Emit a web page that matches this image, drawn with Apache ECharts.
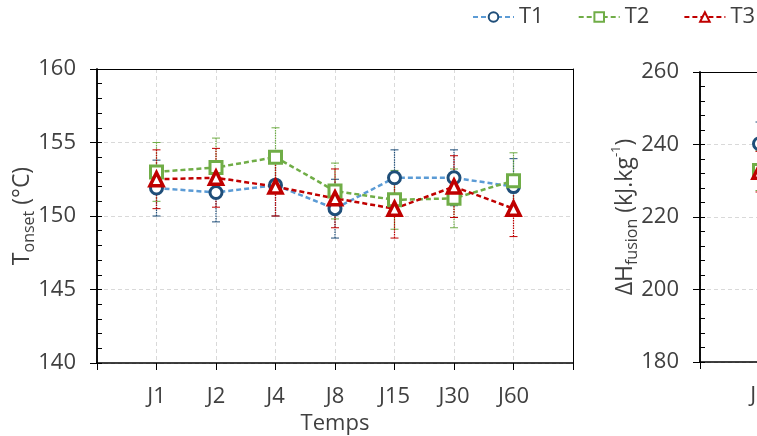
<!DOCTYPE html>
<html>
<head>
<meta charset="utf-8">
<script src="https://cdn.jsdelivr.net/npm/echarts@6/dist/echarts.min.js"></script>
<style>
  html, body { margin: 0; padding: 0; background: #fff; }
  #chart { width: 757px; height: 436px; }
</style>
</head>
<body>
<div id="chart"></div>
<script>
// données
var temps = ['J1', 'J2', 'J4', 'J8', 'J15', 'J30', 'J60'];
var series_names = ['T1', 'T2', 'T3'];

// T onset (°C)
var onset_T1 = [151.9, 151.6, 152.1, 150.5, 152.6, 152.6, 152.0];
var onset_T2 = [153.0, 153.3, 154.0, 151.7, 151.1, 151.2, 152.4];
var onset_T3 = [152.5, 152.6, 152.0, 151.2, 150.5, 152.0, 150.5];
var onset_err_T1 = [1.9, 2.0, 2.1, 2.0, 1.9, 1.9, 1.9];
var onset_err_T2 = [2.0, 2.0, 2.0, 1.9, 2.0, 2.0, 1.9];
var onset_err_T3 = [2.0, 2.0, 2.0, 2.0, 2.0, 2.1, 1.9];

// delta H fusion (kJ/kg) : seul J1 est visible sur l'image
var dh_T1 = [240.2];
var dh_T2 = [232.8];
var dh_T3 = [232.5];
var dh_err_T1 = [6.0];
var dh_err_T2 = [5.5];
var dh_err_T3 = [5.6];

var FONT = 'Open Sans';
var TXT = '#404040';
var lineColors = ['#5B9BD5', '#70AD47', '#C00000'];
var markColors = ['#1F4E79', '#70AD47', '#C00000'];
var symbols = ['circle', 'rect', 'triangle'];

var myChart = echarts.init(document.getElementById('chart'));

function pts(arr) {
    return arr.map(function (v, i) { return [i + 1, v]; });
}
function errPts(arr, err) {
    return arr.map(function (v, i) { return [i + 1, v - err[i], v + err[i]]; });
}

function renderErr(color) {
    return function (params, api) {
        var x = api.value(0);
        var lo = api.coord([x, api.value(1)]);
        var hi = api.coord([x, api.value(2)]);
        var w = 4;
        var st = { stroke: color, lineWidth: 1.2, lineDash: [1.5, 1] };
        var cap = { stroke: color, lineWidth: 1 };
        return {
            type: 'group',
            children: [
                { type: 'line', shape: { x1: lo[0], y1: lo[1], x2: hi[0], y2: hi[1] }, style: st },
                { type: 'line', shape: { x1: lo[0] - w, y1: lo[1], x2: lo[0] + w, y2: lo[1] }, style: cap },
                { type: 'line', shape: { x1: hi[0] - w, y1: hi[1], x2: hi[0] + w, y2: hi[1] }, style: cap }
            ]
        };
    };
}

function xAxisCfg(gridIndex) {
    return {
        type: 'value', gridIndex: gridIndex,
        min: 0, max: 8, interval: 1,
        name: 'Temps', nameLocation: 'middle', nameGap: 50,
        nameTextStyle: { fontFamily: FONT, fontSize: 22, color: TXT },
        axisLine: { lineStyle: { color: '#000', width: 1.5 } },
        axisTick: { show: true, length: 7, lineStyle: { color: '#000', width: 1 } },
        axisLabel: {
            margin: 23, fontFamily: FONT, fontSize: 22, color: TXT,
            formatter: function (v) { return temps[v - 1] || ''; }
        },
        splitLine: { show: true, lineStyle: { color: '#d9d9d9', type: [4, 3] } }
    };
}

// ligne du cadre (haut ou droite)
function frameCfg(gridIndex, pos, min, max) {
    return {
        type: 'value', gridIndex: gridIndex, position: pos,
        min: min, max: max,
        axisLine: { show: true, onZero: false, lineStyle: { color: '#000', width: 1 } },
        axisTick: { show: false }, axisLabel: { show: false }, splitLine: { show: false }
    };
}

function yAxisCfg(gridIndex, min, max, step, name, gap) {
    return {
        type: 'value', gridIndex: gridIndex,
        min: min, max: max, interval: step,
        name: name, nameLocation: 'middle', nameGap: gap, nameRotate: 90,
        nameMoveOverlap: false,
        nameTextStyle: {
            rich: {
                a: { fontFamily: FONT, fontSize: 23, color: TXT, lineHeight: 30 },
                b: { fontFamily: FONT, fontSize: 16, color: TXT, lineHeight: 22, verticalAlign: 'bottom' },
                c: { fontFamily: FONT, fontSize: 13, color: TXT, lineHeight: 16, verticalAlign: 'top' }
            }
        },
        axisLine: { lineStyle: { color: '#000', width: 1.5 } },
        axisTick: { length: 7, lineStyle: { color: '#000', width: 1 } },
        axisLabel: { margin: 21, fontFamily: FONT, fontSize: 22, color: TXT },
        splitLine: { show: true, lineStyle: { color: '#d9d9d9', type: [4, 3] } }
    };
}

// axe superposé pour les petites graduations intérieures
function yMinorCfg(gridIndex, min, max, step) {
    return {
        type: 'value', gridIndex: gridIndex, position: 'left',
        min: min, max: max, interval: step,
        axisLine: { show: true, lineStyle: { color: '#000', width: 1.5 } },
        axisTick: { show: true, inside: true, length: 5, lineStyle: { color: '#000', width: 1 } },
        axisLabel: { show: false },
        splitLine: { show: false }
    };
}

var onsetVals = [onset_T1, onset_T2, onset_T3];
var onsetErrs = [onset_err_T1, onset_err_T2, onset_err_T3];
var dhVals = [dh_T1, dh_T2, dh_T3];
var dhErrs = [dh_err_T1, dh_err_T2, dh_err_T3];

var series = [];
[[onsetVals, onsetErrs, 0, 0], [dhVals, dhErrs, 1, 2]].forEach(function (block) {
    var vals = block[0], errs = block[1], xi = block[2], yi = block[3];
    vals.forEach(function (arr, k) {
        series.push({
            type: 'custom', name: series_names[k] + ' err',
            xAxisIndex: xi, yAxisIndex: yi, z: 2,
            renderItem: renderErr(markColors[k]),
            encode: { x: 0, y: [1, 2] },
            data: errPts(arr, errs[k]),
            silent: true
        });
    });
    vals.forEach(function (arr, k) {
        series.push({
            type: 'line', name: series_names[k],
            xAxisIndex: xi, yAxisIndex: yi, z: 3,
            data: pts(arr),
            symbol: symbols[k],
            symbolSize: k === 2 ? 13 : 12,
            lineStyle: { color: lineColors[k], width: 2.5, type: [5, 3] },
            itemStyle: { color: '#fff', borderColor: markColors[k], borderWidth: k === 2 ? 3.5 : 3 },
            emphasis: { disabled: true }
        });
    });
});

option = {
    backgroundColor: '#fff',
    animation: false,
    legend: {
        data: series_names,
        left: 472, top: 6, padding: 0,
        itemWidth: 41, itemHeight: 12, itemGap: 34,
        textStyle: { fontFamily: FONT, fontSize: 22, color: TXT }
    },
    grid: [
        { left: 97, top: 69, width: 476, height: 294, outerBoundsMode: 'none', containLabel: false },
        { left: 700, top: 72, width: 476, height: 290, outerBoundsMode: 'none', containLabel: false }
    ],
    xAxis: [
        xAxisCfg(0), xAxisCfg(1),
        frameCfg(0, 'top', 0, 8), frameCfg(1, 'top', 0, 8)
    ],
    yAxis: [
        yAxisCfg(0, 140, 160, 5, '{a|T}{b|onset}{a| (°C)}', 60),
        yMinorCfg(0, 140, 160, 1),
        yAxisCfg(1, 180, 260, 20, '{a|ΔH}{b|fusion}{a| (kJ.kg}{c|-1}{a|)}', 60),
        yMinorCfg(1, 180, 260, 4),
        frameCfg(0, 'right', 140, 160)
    ],
    series: series
};

if (option && typeof option === "object") {
    myChart.setOption(option, true);
}
</script>
</body>
</html>
